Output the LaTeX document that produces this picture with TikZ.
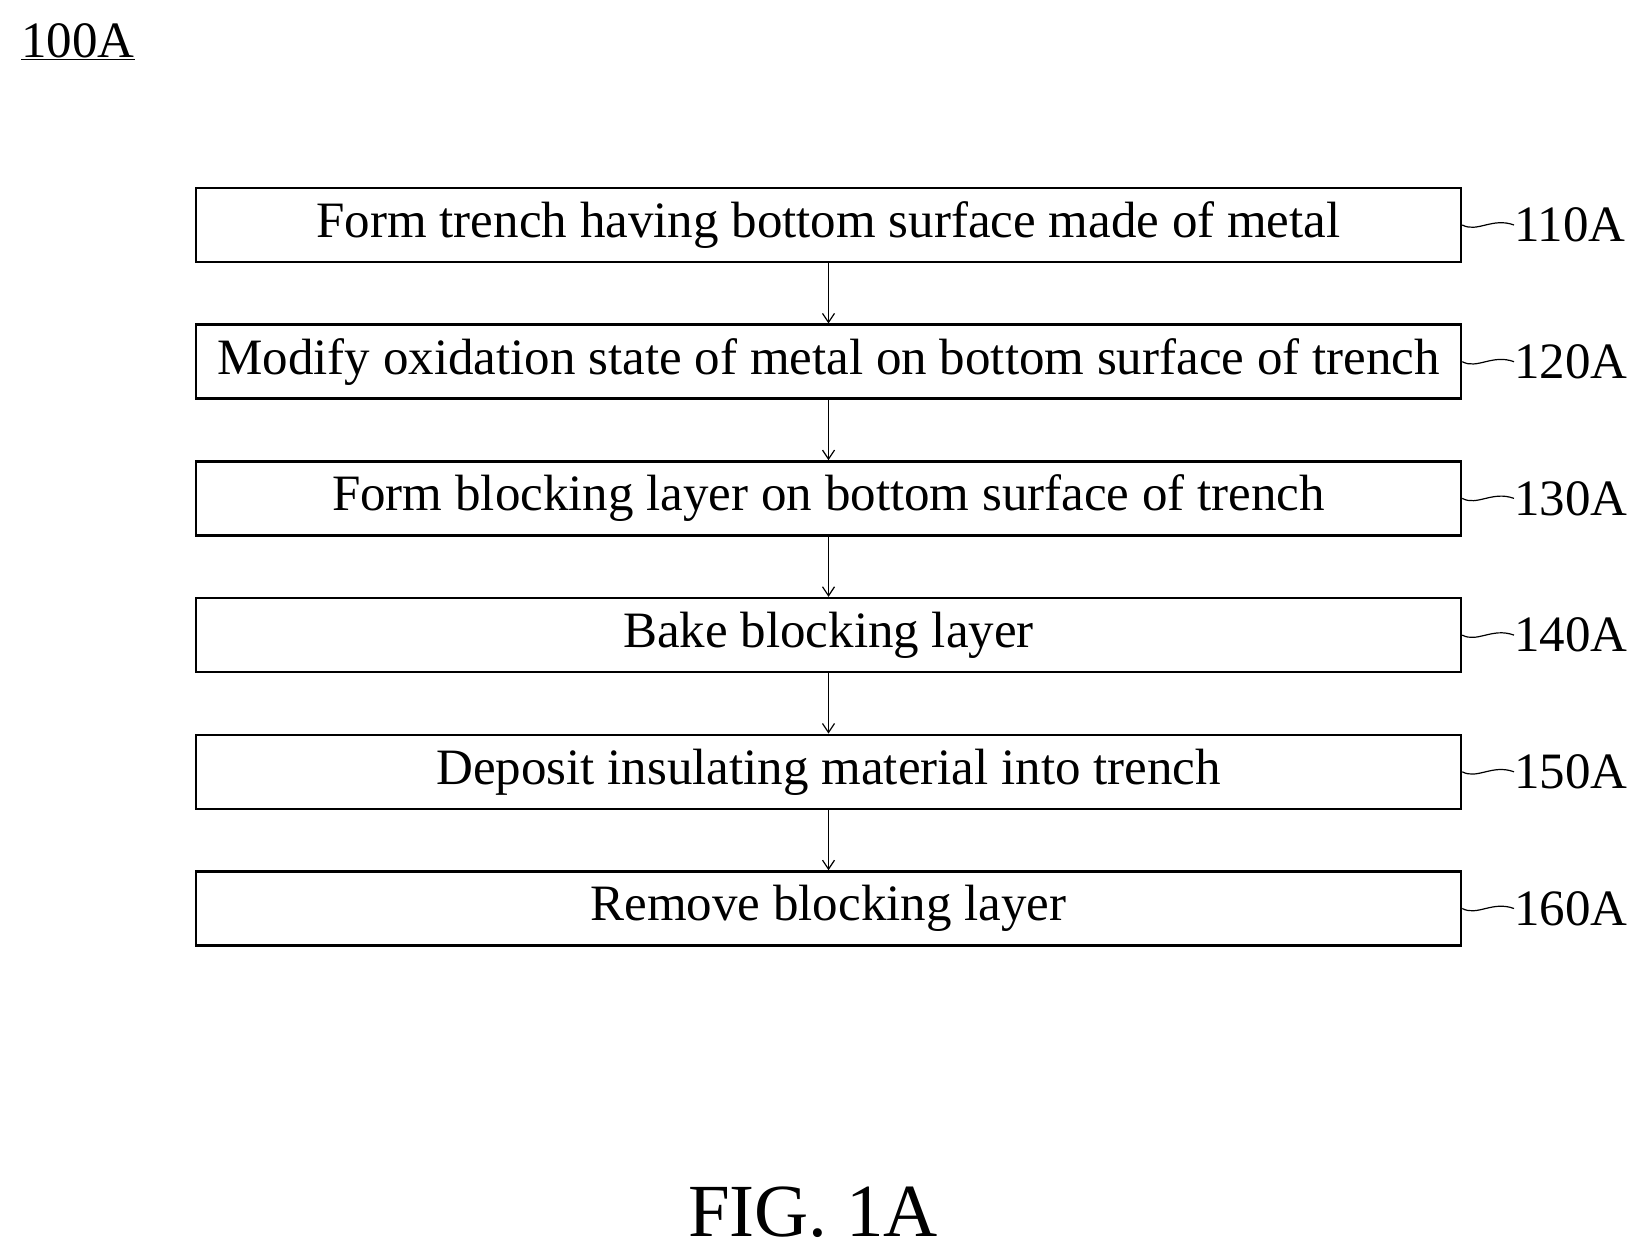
\documentclass[tikz,border=0pt]{standalone}
\usepackage{fontspec}
\usetikzlibrary{arrows.meta}
\setmainfont{Liberation Serif}
\begin{document}
\begin{tikzpicture}[x=1pt,y=-1pt,
 box/.style={draw,line width=2.5pt,minimum width=1265pt,minimum height=74pt,inner sep=0pt,font=\fontsize{51}{53}\selectfont},
 lab/.style={font=\fontsize{51}{53}\selectfont,anchor=west,inner sep=0pt},
 arr/.style={-{Straight Barb[length=9pt,width=12pt]},line width=1.2pt}]
\useasboundingbox (0,0) rectangle (1640,1259);
\node[anchor=west,inner sep=0pt,font=\fontsize{51}{53}\selectfont] (t) at (21,42) {\underline{100A}};
\foreach \i/\txt/\n in {0/Form trench having bottom surface made of metal/110A,
 1/Modify oxidation state of metal on bottom surface of trench/120A,
 2/Form blocking layer on bottom surface of trench/130A,
 3/Bake blocking layer/140A,
 4/Deposit insulating material into trench/150A,
 5/Remove blocking layer/160A}{
 \node[box] (b\i) at (828.5,{225+136.7*\i}) {\txt};
 \node[lab] (l\i) at (1514,{225+136.7*\i}) {\n};
 \draw[line width=1.2pt] (b\i.east) .. controls ([xshift=15pt,yshift=-8pt]b\i.east) and ([xshift=30pt,yshift=8pt]b\i.east) .. (l\i.west);
}
\foreach \i [evaluate=\i as \j using int(\i+1)] in {0,...,4}{\draw[arr] (b\i.south) -- (b\j.north);}
\node[font=\fontsize{75}{77}\selectfont] (f) at (813,1212) {FIG. 1A};
\end{tikzpicture}
\end{document}
